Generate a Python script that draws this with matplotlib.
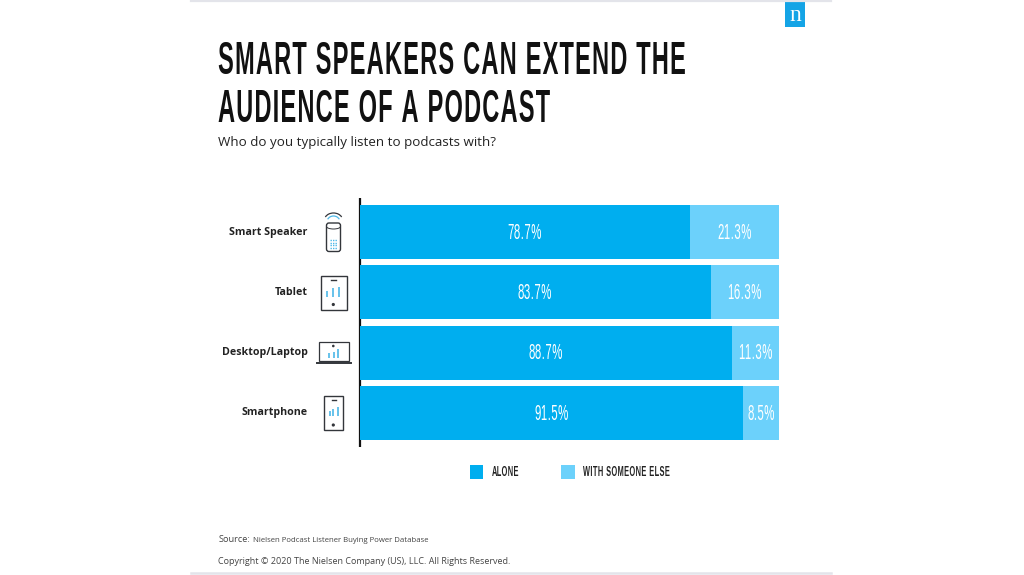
import os
import matplotlib
matplotlib.use("Agg")
import matplotlib.pyplot as plt
from matplotlib import font_manager as fm
from matplotlib.patches import Rectangle, FancyBboxPatch, Arc, Circle

categories = ["Smart Speaker", "Tablet", "Desktop/Laptop", "Smartphone"]
alone = [78.7, 83.7, 88.7, 91.5]
with_someone = [21.3, 16.3, 11.3, 8.5]
series_names = ["ALONE", "WITH SOMEONE ELSE"]
title_lines = ["SMART SPEAKERS CAN EXTEND THE", "AUDIENCE OF A PODCAST"]
subtitle = "Who do you typically listen to podcasts with?"
source_label = "Source:"
source_text = "Nielsen Podcast Listener Buying Power Database"
copyright_text = "Copyright © 2020 The Nielsen Company (US), LLC. All Rights Reserved."

BLUE = "#00aeef"
LIGHT = "#6cd1fb"
W, H = 1024, 575
BODY = ["Open Sans", "DejaVu Sans"]


def condensed(weight, factor, track, out):
    """Build a horizontally squeezed, tracked copy of Liberation Sans so the text stays real text."""
    from fontTools.ttLib import TTFont
    path = fm.findfont(fm.FontProperties(family="Liberation Sans", weight=weight))
    f = TTFont(path)
    glyf = f["glyf"]
    for name in f.getGlyphOrder():
        g = glyf[name]
        if g.isComposite():
            for c in g.components:
                c.x = int(round(c.x * factor))
        elif g.numberOfContours > 0:
            g.coordinates.scale((factor, 1))
            g.coordinates.toInt()
        if hasattr(g, "removeHinting"):
            g.removeHinting()
    for name in f.getGlyphOrder():
        glyf[name].recalcBounds(glyf)
    hmtx = f["hmtx"]
    for name, (adv, lsb) in list(hmtx.metrics.items()):
        hmtx[name] = (int(round(adv * factor)) + track, int(round(lsb * factor)))
    for tag in ("fpgm", "prep", "cvt ", "hdmx", "VDMX", "LTSH", "kern", "GPOS", "GSUB"):
        if tag in f:
            del f[tag]
    f.save(out)
    return fm.FontProperties(fname=os.path.abspath(out))


title_fp = condensed("bold", 0.50, 50, "cond_bold.ttf")
label_fp = condensed("normal", 0.53, 50, "cond_reg.ttf")
legend_fp = condensed("bold", 0.52, 55, "cond_leg.ttf")

fig = plt.figure(figsize=(W / 100, H / 100), dpi=100, facecolor="white")
px = fig.add_axes([0, 0, 1, 1])
px.set_xlim(0, W)
px.set_ylim(H, 0)
px.axis("off")

# frame rules and logo
px.plot([191, 831], [1, 1], color="#e3e4ea", lw=1.6)
px.plot([191, 831], [572.5, 572.5], color="#e3e4ea", lw=1.8)
px.add_patch(Rectangle((785, 0), 19.5, 27, color="#14a4e6", lw=0))
px.text(794.8, 15.5, "n", color="white", fontsize=17, family=["Liberation Serif"],
        ha="center", va="center")

# titles
for txt, y in zip(title_lines, [74.5, 122.5]):
    px.text(218, y, txt, fontproperties=title_fp, fontsize=34, color="#111111",
            ha="left", va="baseline")
px.text(218.5, 142.7, subtitle, fontsize=9.6, family=BODY, color="#222222",
        ha="left", va="center")

# bars
ax = fig.add_axes([360 / W, 1 - 443 / H, 419 / W, (443 - 202) / H])
ax.set_xlim(0, 100)
ax.set_ylim(3.5, -0.5)
ax.axis("off")
ypos = list(range(len(categories)))
ax.barh(ypos, alone, height=0.9, color=BLUE, lw=0)
ax.barh(ypos, with_someone, left=alone, height=0.9, color=LIGHT, lw=0)
for y, a, w in zip(ypos, alone, with_someone):
    ax.text(a / 2, y + 0.02, f"{a}%", color="white", fontproperties=label_fp, fontsize=15.5,
            ha="center", va="center")
    ax.text(a + w / 2, y + 0.02, f"{w}%", color="white", fontproperties=label_fp, fontsize=15.5,
            ha="center", va="center")

# axis line
px.plot([359.5, 359.5], [198, 447], color="#111111", lw=1.6, solid_capstyle="butt")

# category labels
for cat, y in zip(categories, [232.5, 292.5, 353, 412.5]):
    px.text(307.5, y, cat, fontsize=7.65, family=BODY, weight="bold", color="#222222",
            ha="right", va="center")

INK = "#33363b"
BAR = "#4db8e8"


def signal(xs, base, tops):
    for x, top in zip(xs, tops):
        px.plot([x, x], [base, top], color=BAR, lw=1.2, solid_capstyle="butt")


# speaker icon
px.add_patch(FancyBboxPatch((326.5, 223), 14, 28.5, boxstyle="round,pad=0,rounding_size=2.5",
                            fc="white", ec=INK, lw=1.0))
px.add_patch(Arc((333.5, 226.5), 14, 5, theta1=0, theta2=180, color=INK, lw=0.7))
px.add_patch(Arc((333.5, 220), 18, 14, theta1=200, theta2=340, color=INK, lw=0.9))
px.add_patch(Arc((333.5, 222), 13, 12, theta1=205, theta2=335, color=BAR, lw=0.9))
for yy in (240, 242.5, 245, 247.5):
    px.plot([330, 337], [yy, yy], color=BAR, lw=1.0, ls=(0, (1, 0.8)))

# tablet icon
px.add_patch(Rectangle((320.5, 275.5), 26, 34, fc="white", ec=INK, lw=1))
px.plot([331, 336], [279.5, 279.5], color=INK, lw=1.0)
signal([327, 333, 339], 297, [291, 288, 287])
px.add_patch(Circle((333.3, 304.5), 0.9, color=INK))

# laptop icon
px.add_patch(Rectangle((318.5, 342), 30, 18.5, fc="white", ec=INK, lw=0.9))
px.plot([316.5, 351], [362.8, 362.8], color=INK, lw=1.4)
signal([329, 333.5, 338], 358, [353, 351.5, 349])
px.add_patch(Circle((333.3, 346), 0.6, color=INK))

# phone icon
px.add_patch(Rectangle((323.5, 395.5), 19.5, 34, fc="white", ec=INK, lw=1))
px.plot([331.5, 335.5], [399.5, 399.5], color=INK, lw=1.0)
signal([329.5, 333.3, 337.5], 416, [411, 409, 407])
px.add_patch(Circle((333.3, 425), 0.9, color=INK))

# legend
for x, col, name, tx in zip([469.5, 561], [BLUE, LIGHT], series_names, [491.5, 583]):
    px.add_patch(Rectangle((x, 465), 13.5, 13.5, color=col, lw=0))
    px.text(tx, 471.7, name, fontproperties=legend_fp, fontsize=10.3, color="#222222",
            ha="left", va="center")

# footer
px.text(218.5, 540, source_label, fontsize=6.6, family=BODY, color="#444444", ha="left", va="center")
px.text(253, 540, source_text, fontsize=5.6, family=BODY, color="#444444", ha="left", va="center")
px.text(218.5, 561, copyright_text, fontsize=6.5, family=BODY, color="#444444", ha="left", va="center")

fig.savefig("out.png", dpi=100, facecolor="white")
